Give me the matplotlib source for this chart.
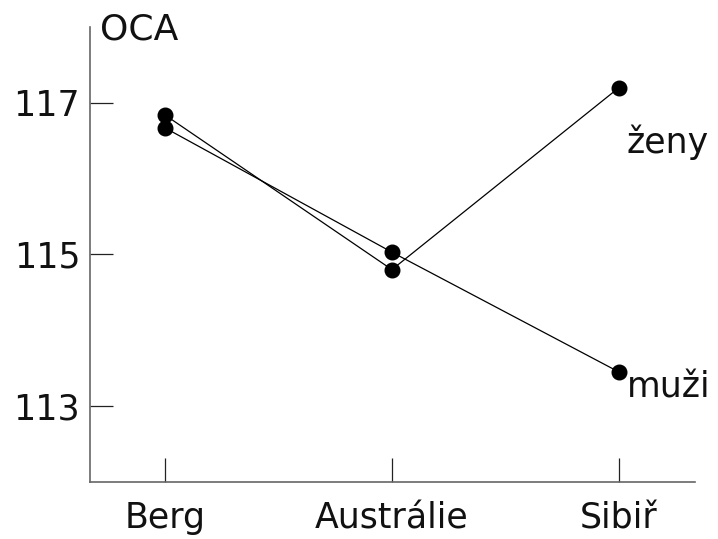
import matplotlib
matplotlib.use("Agg")
import matplotlib.pyplot as plt

categories = ["Berg", "Austrálie", "Sibiř"]
zeny = [116.84, 114.80, 117.20]
muzi = [116.67, 115.03, 113.45]
yticks = [113, 115, 117]
series_labels = ["ženy", "muži"]

plt.rcParams['font.family'] = ['DejaVu Sans']

fig = plt.figure(figsize=(7.18, 5.39), dpi=100)
ax = fig.add_axes([0.1253, 0.1058, 0.968 - 0.1253, 0.95 - 0.1058])

x = list(range(len(categories)))
for vals in (zeny, muzi):
    ax.plot(x, vals, color='black', lw=0.9, marker='o', ms=10.5,
            markerfacecolor='black', markeredgecolor='black')

ax.text(2.035, 116.48, series_labels[0], fontsize=25, va='center', ha='left', color='#111111')
ax.text(2.035, 113.25, series_labels[1], fontsize=25, va='center', ha='left', color='#111111')

ax.set_xlim(-0.33, 2.335)
ax.set_ylim(112, 118)
ax.set_xticks(x)
ax.set_xticklabels(categories)
ax.set_yticks(yticks)
ax.set_yticklabels([str(v) for v in yticks])

for s in ['top', 'right']:
    ax.spines[s].set_visible(False)
for s in ['left', 'bottom']:
    ax.spines[s].set_color('#666666')
    ax.spines[s].set_linewidth(1.2)

ax.tick_params(axis='x', direction='in', length=17, width=0.9, color='#222222',
               pad=14, labelsize=25, labelcolor='#111111')
ax.tick_params(axis='y', direction='in', length=16.5, width=0.9, color='#222222',
               pad=7, labelsize=25, labelcolor='#111111')

fig.text(100 / 718, 1 - 30 / 539, "OCA", fontsize=26, va='center', ha='left', color='#111111')

fig.savefig("out.png", dpi=100)
